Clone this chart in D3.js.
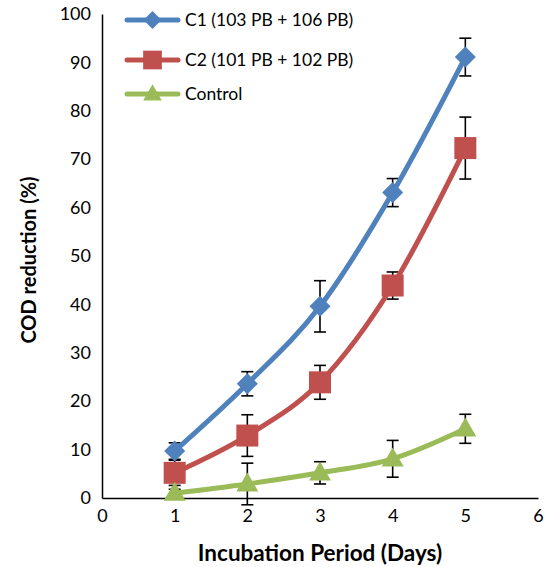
<!DOCTYPE html>
<html><head><meta charset="utf-8">
<script src="https://cdn.jsdelivr.net/npm/d3@7"></script>
<style>
html,body{margin:0;padding:0;background:#fff;}
svg{display:block;font-family:Lato,"Open Sans",sans-serif;}
</style></head>
<body>
<svg id="c" width="546" height="567"></svg>
<script>
const days = [1, 2, 3, 4, 5];
const c1 = [9.7, 23.6, 39.6, 63.1, 91.1];
const c1Err = [1.7, 2.5, 5.3, 2.9, 3.9];
const c2 = [5.2, 12.9, 23.9, 43.9, 72.3];
const c2Err = [2.6, 4.3, 3.5, 2.8, 6.4];
const ctrl = [1.0, 2.9, 5.2, 8.1, 14.3];
const ctrlErr = [0.8, 4.3, 2.3, 3.8, 3.0];
const seriesNames = ["C1 (103 PB + 106 PB)", "C2 (101 PB + 102 PB)", "Control"];
const seriesColors = ["#4F81BD", "#C0504D", "#9BBB59"];
const seriesShapes = ["diamond", "square", "triangle"];
const xTicks = [0, 1, 2, 3, 4, 5, 6];
const yTicks = [0, 10, 20, 30, 40, 50, 60, 70, 80, 90, 100];
const xTitle = "Incubation Period (Days)";
const yTitle = "COD reduction (%)";

const series = [
  {name: seriesNames[0], values: c1, err: c1Err, color: seriesColors[0], shape: seriesShapes[0]},
  {name: seriesNames[1], values: c2, err: c2Err, color: seriesColors[1], shape: seriesShapes[1]},
  {name: seriesNames[2], values: ctrl, err: ctrlErr, color: seriesColors[2], shape: seriesShapes[2]}
];

const svg = d3.select("#c");
const L = 102, R = 538, T = 14, B = 498;
const x = d3.scaleLinear().domain([0, 6]).range([L, R]);
const y = d3.scaleLinear().domain([0, 100]).range([B, T]);

svg.append("rect").attr("width", 546).attr("height", 567).attr("fill", "#fff");

// axes
const xAxis = svg.append("g").attr("transform", `translate(0,${B})`)
  .call(d3.axisBottom(x).tickValues(xTicks).tickSize(0).tickPadding(11).tickFormat(d3.format("d")));
const yAxis = svg.append("g").attr("transform", `translate(${L},0)`)
  .call(d3.axisLeft(y).tickValues(yTicks).tickSize(0).tickPadding(11).tickFormat(d3.format("d")));
[xAxis, yAxis].forEach(a => {
  a.select(".domain").attr("stroke", "#000").attr("stroke-width", 1.5);
  a.selectAll("text").attr("font-size", 18).attr("fill", "#000").attr("font-family", "Lato, sans-serif");
});

svg.append("text").attr("x", (L + R) / 2).attr("y", 561).attr("text-anchor", "middle")
  .attr("font-size", 22.5).attr("font-weight", "bold").text(xTitle);
svg.append("text").attr("transform", `translate(36,${(T + B) / 2 + 4}) rotate(-90)`)
  .attr("text-anchor", "middle").attr("font-size", 20).attr("font-weight", "bold").text(yTitle);

function marker(g, shape, cx, cy, color, s) {
  if (shape === "diamond") {
    const r = 10.5 * s;
    g.append("path").attr("d", `M${cx},${cy - r}L${cx + r},${cy}L${cx},${cy + r}L${cx - r},${cy}Z`).attr("fill", color);
  } else if (shape === "square") {
    const h = 11 * s;
    g.append("rect").attr("x", cx - h).attr("y", cy - h).attr("width", 2 * h).attr("height", 2 * h).attr("fill", color);
  } else {
    const w = 11 * s, ht = 19 * s;
    g.append("path").attr("d", `M${cx},${cy - ht * 0.6}L${cx + w},${cy + ht * 0.4}L${cx - w},${cy + ht * 0.4}Z`).attr("fill", color);
  }
}

// error bars
const eg = svg.append("g").attr("stroke", "#000").attr("stroke-width", 1.6);
series.forEach(s => {
  s.values.forEach((v, i) => {
    const cx = x(days[i]);
    const y1 = y(v + s.err[i]), y2 = y(v - s.err[i]);
    eg.append("line").attr("x1", cx).attr("x2", cx).attr("y1", y1).attr("y2", y2);
    eg.append("line").attr("x1", cx - 6).attr("x2", cx + 6).attr("y1", y1).attr("y2", y1);
    eg.append("line").attr("x1", cx - 6).attr("x2", cx + 6).attr("y1", y2).attr("y2", y2);
  });
});

const line = d3.line().x((d, i) => x(days[i])).y(d => y(d)).curve(d3.curveCardinal.tension(0));
series.forEach(s => {
  svg.append("path").datum(s.values).attr("d", line).attr("fill", "none")
    .attr("stroke", s.color).attr("stroke-width", 5).attr("stroke-linejoin", "round").attr("stroke-linecap", "round");
  const mg = svg.append("g");
  s.values.forEach((v, i) => marker(mg, s.shape, x(days[i]), y(v), s.color, 1));
});

// legend
const legY = [20, 60, 94];
series.forEach((s, i) => {
  const g = svg.append("g");
  g.append("line").attr("x1", 127).attr("x2", 178).attr("y1", legY[i]).attr("y2", legY[i])
    .attr("stroke", s.color).attr("stroke-width", 5).attr("stroke-linecap", "round");
  marker(g, s.shape, 152.5, legY[i], s.color, 0.85);
  g.append("text").attr("x", 185).attr("y", legY[i]).attr("dy", "0.35em")
    .attr("font-size", 17.5).attr("fill", "#000").text(s.name);
});
</script>
</body></html>
